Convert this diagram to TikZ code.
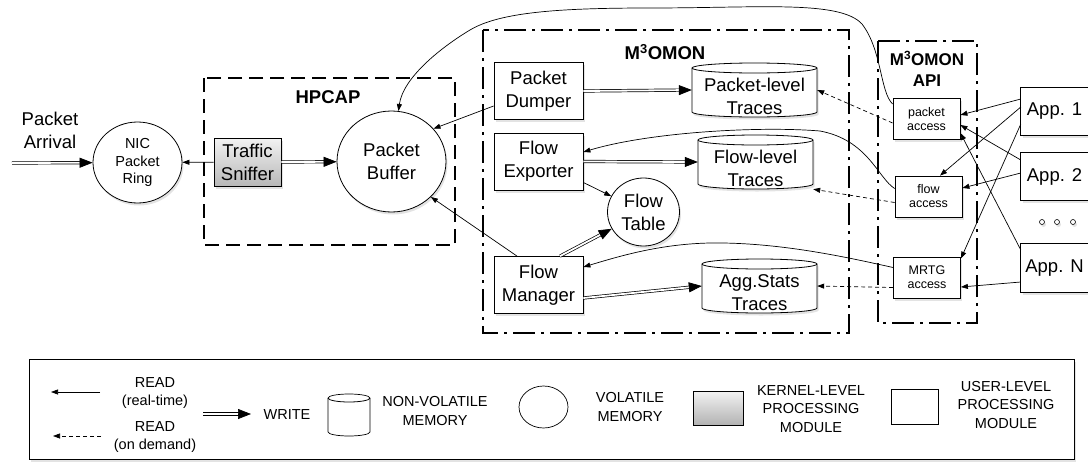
\documentclass[tikz,border=0pt]{standalone}
\usepackage{fontspec}
\setmainfont{Liberation Sans}
\usetikzlibrary{arrows.meta,shapes.geometric,shadows,calc}

\tikzset{
  every node/.style={inner sep=0pt, align=center},
  big/.style={font=\fontsize{18.5}{23}\selectfont},
  mid/.style={font=\fontsize{14.5}{17.5}\selectfont},
  small/.style={font=\fontsize{12.5}{14}\selectfont},
  leg/.style={font=\fontsize{14.5}{18.5}\selectfont},
  ttl/.style={font=\fontsize{18.5}{22}\selectfont\bfseries},
  ttlapi/.style={font=\fontsize{17}{21}\selectfont\bfseries},
  shad/.style={drop shadow={shadow xshift=1.5pt, shadow yshift=-2.5pt, opacity=0.22}},
  modbox/.style={draw, line width=0.8pt, fill=white, shad, big, minimum width=89, minimum height=57},
  accbox/.style={draw, line width=0.8pt, fill=white, shad, small, minimum width=67, minimum height=41},
  appbox/.style={fill=white, shad, big, minimum width=67},
  appline/.style={draw, line width=0.8pt},
  vol/.style={ellipse, draw, line width=0.8pt, fill=white, shad},
  kern/.style={draw, line width=0.8pt, top color=black!5, bottom color=black!28, shad, big, minimum width=67, minimum height=48},
  cylbody/.style={draw, line width=0.8pt, fill=white, shad},
  cylline/.style={draw, line width=0.8pt},
  cyltext/.style={big},
  hpc/.style={draw, line width=2.8pt, dash pattern=on 14pt off 7pt},
  ddot/.style={draw, line width=2.8pt, dash pattern=on 22pt off 6pt on 3pt off 6pt},
  rd/.style={-{Triangle[length=7pt,width=5pt]}, line width=0.7pt},
  rdd/.style={rd, dash pattern=on 4pt off 3pt},
  wrshaft/.style={draw, line width=0.7pt, double=white, double distance=1.8pt},
  wrtip/.style={-{Triangle[length=13pt,width=10pt]}, line width=0.7pt},
  legbox/.style={draw, line width=0.9pt, shad},
  legshape/.style={draw, line width=0.7pt, fill=white},
  legkern/.style={draw, line width=0.7pt, top color=black!5, bottom color=black!30},
}

\newcommand\wrarrow[2]{%
  \path #1 -- #2 coordinate[pos=0] (wA) coordinate[pos=1] (wB);
  \draw[wrshaft] (wA) -- ($(wB)!11pt!(wA)$);
  \draw[wrtip] ($(wB)!12pt!(wA)$) -- (wB);
}

\def\cyry{5}
\def\cytext{6.5}
\newcommand\cylnode[6]{%
  \pgfmathsetmacro\cx{#2}%
  \pgfmathsetmacro\cl{#2-#4/2}\pgfmathsetmacro\cri{#2+#4/2}%
  \pgfmathsetmacro\ct{#3-#5/2+\cyry}\pgfmathsetmacro\cb{#3+#5/2-\cyry}%
  \pgfmathsetmacro\krx{0.5523*#4/2}\pgfmathsetmacro\kry{0.5523*\cyry}%
  \draw[cylbody] (\cl,\ct) -- (\cl,\cb) .. controls (\cl,\cb+\kry) and (\cx-\krx,\cb+\cyry) .. (\cx,\cb+\cyry)
    .. controls (\cx+\krx,\cb+\cyry) and (\cri,\cb+\kry) .. (\cri,\cb) -- (\cri,\ct)
    .. controls (\cri,\ct-\kry) and (\cx+\krx,\ct-\cyry) .. (\cx,\ct-\cyry)
    .. controls (\cx-\krx,\ct-\cyry) and (\cl,\ct-\kry) .. (\cl,\ct) -- cycle;
  \draw[cylline] (\cl,\ct) .. controls (\cl,\ct+\kry) and (\cx-\krx,\ct+\cyry) .. (\cx,\ct+\cyry)
    .. controls (\cx+\krx,\ct+\cyry) and (\cri,\ct+\kry) .. (\cri,\ct);
  \node[minimum width=#4, minimum height=#5] (#1) at (#2,#3) {};
  \node[cyltext] (#1-t) at (#2,#3+\cytext) {#6};
}

\begin{document}
\begin{tikzpicture}[x=1pt,y=-1pt]
\useasboundingbox (0,0) rectangle (1088,461);

% containers
\draw[hpc] (204,78) rectangle (455,245);
\draw[ddot] (483,30) rectangle (849,333);
\draw[ddot] (878,41) rectangle (977,323);
\node[ttl] (thp) at (328,97) {HPCAP};
\node[ttl] (tm3) at (665,52) {M\textsuperscript{3}OMON};
\node[ttlapi] (tapi) at (927,68.5) {M\textsuperscript{3}OMON\\API};

% left part
\node[big] (arr) at (50,130) {Packet\\Arrival};
\coordinate (arrS) at (12,163);
\node[vol, mid, minimum width=89, minimum height=81] (nic) at (137.5,162.5) {NIC\\Packet\\Ring};
\node[kern] (ts) at (247.5,162) {Traffic\\Sniffer};
\node[vol, big, minimum width=109, minimum height=101] (pb) at (391.5,161.5) {Packet\\Buffer};

% M3OMON
\node[modbox] (pd) at (538.5,91) {Packet\\Dumper};
\node[modbox] (fe) at (538.5,161.5) {Flow\\Exporter};
\node[modbox] (fm) at (538.5,285) {Flow\\Manager};
\node[vol, big, minimum width=72, minimum height=68] (ft) at (643.5,212) {Flow\\Table};
\cylnode{plt}{754.5}{90}{125}{54}{Packet-level\\Traces}
\cylnode{flt}{755.5}{162}{115}{54}{Flow-level\\Traces}
\cylnode{ast}{759.5}{286}{115}{54}{Agg.Stats\\Traces}

% API
\node[accbox] (pa) at (926.5,119) {packet\\access};
\node[accbox] (fa) at (928.5,196.5) {flow\\access};
\node[accbox] (ma) at (927,277.5) {MRTG\\access};

% applications
\node[appbox, minimum height=47] (app1) at (1054.5,111.5) {App. 1};
\node[appbox, minimum height=47] (app2) at (1054.5,176.5) {App. 2};
\node[appbox, minimum height=48] (appN) at (1054.5,268) {App. N};
\draw[appline] (app1.north east) -- (app1.north west) -- (app1.south west) -- (app1.south east);
\draw[appline] (app2.north east) -- (app2.north west) -- (app2.south west) -- (app2.south east);
\draw[appline] (appN.north east) -- (appN.north west) -- (appN.south west) -- (appN.south east);
\node[circle, draw, line width=0.6pt, fill=white, shad, minimum size=5] (d1) at (1042,222) {};
\node[circle, draw, line width=0.6pt, fill=white, shad, minimum size=5] (d2) at (1057,222) {};
\node[circle, draw, line width=0.6pt, fill=white, shad, minimum size=5] (d3) at (1073,222) {};

% connectors: capture path
\wrarrow{(arrS)}{(nic)}
\draw[rd] (ts) -- (nic);
\wrarrow{(ts.east)}{(pb)}

% into packet buffer
\draw[rd] ([yshift=15pt]pa.west) .. controls (880,92) and (882,50) .. (862,24)
  .. controls (840,0) and (760,8) .. (650,8)
  .. controls (560,8) and (500,12) .. (470,30)
  .. controls (440,48) and (403,78) .. (pb);
\draw[rd] ([yshift=-15pt]pd.west) -- (pb.38);
\draw[rd] ([xshift=-21.5pt]fm.north) -- (pb.-42);

% writes inside M3OMON
\wrarrow{(pd.east)}{(plt.west)}
\wrarrow{(fe.east)}{(flt.west)}
\draw[rd] ([yshift=-21pt]fe.east) -- (ft);
\wrarrow{([xshift=21.5pt]fm.north)}{(ft)}
\wrarrow{([yshift=-13pt]fm.east)}{(ast.west)}

% on-demand reads
\draw[rdd] ([yshift=-4pt]pa.west) -- (plt.east);
\draw[rdd] ([yshift=-6pt]fa.west) -- (flt.south east);
\draw[rdd] ([yshift=-10pt]ma.west) -- (ast.east);

% real-time reads
\draw[rd] ([yshift=8pt]fa.west) .. controls (878,178) and (868,140) .. (820,131)
  .. controls (760,126) and (650,132) .. ([yshift=9.5pt]fe.east);
\draw[rd] ([yshift=10pt]ma.west) .. controls (850,258) and (780,242) .. (710,243)
  .. controls (660,244) and (620,256) .. ([yshift=18pt]fm.east);

% applications to API
\draw[rd] ([yshift=12.5pt]app1.west) -- ([yshift=4pt]pa.east);
\draw[rd] ([yshift=4.5pt]app1.west) -- ([xshift=11.5pt]fa.north);
\draw[rd] ([yshift=-12.5pt]app1.west) -- ([yshift=-2pt]ma.north east);
\draw[rd] ([yshift=16.5pt]app2.west) -- ([yshift=-6pt]pa.east);
\draw[rd] ([yshift=3.5pt]app2.west) -- ([yshift=8.5pt]fa.east);
\draw[rd] ([yshift=18pt]appN.west) -- ([yshift=-14pt]pa.east);
\draw[rd] ([yshift=-14pt]appN.west) -- ([yshift=-9.5pt]ma.east);

% legend
\draw[legbox, fill=white] (29,359) rectangle (1074,459);
\coordinate (l1a) at (100,392); \coordinate (l1b) at (51,392);
\draw[rd] (l1a) -- (l1b);
\coordinate (l2a) at (101,436); \coordinate (l2b) at (53,436);
\draw[rdd] (l2a) -- (l2b);
\node[leg] (lr1) at (155,393) {READ\\(real-time)};
\node[leg] (lr2) at (155,437) {READ\\(on demand)};
\coordinate (lw1) at (203,414); \coordinate (lw2) at (251,414);
\wrarrow{(lw1)}{(lw2)}
\node[leg] (lwt) at (287,415) {WRITE};
\def\cyry{4}
\tikzset{cylbody/.style={draw, line width=0.7pt, fill=white}}
\cylnode{lcy}{349}{415}{42}{42}{}
\node[leg] (lnv) at (435,411) {NON-VOLATILE\\MEMORY};
\node[legshape, ellipse, minimum width=49, minimum height=42] (lvo) at (543.5,407) {};
\node[leg] (lvt) at (630,407) {VOLATILE\\MEMORY};
\node[legkern, minimum width=50, minimum height=34] (lke) at (718,408) {};
\node[leg] (lkt) at (811,409) {KERNEL-LEVEL\\PROCESSING\\MODULE};
\node[legshape, minimum width=47, minimum height=35] (lus) at (915,407) {};
\node[leg] (lut) at (1006,405) {USER-LEVEL\\PROCESSING\\MODULE};
\end{tikzpicture}
\end{document}
